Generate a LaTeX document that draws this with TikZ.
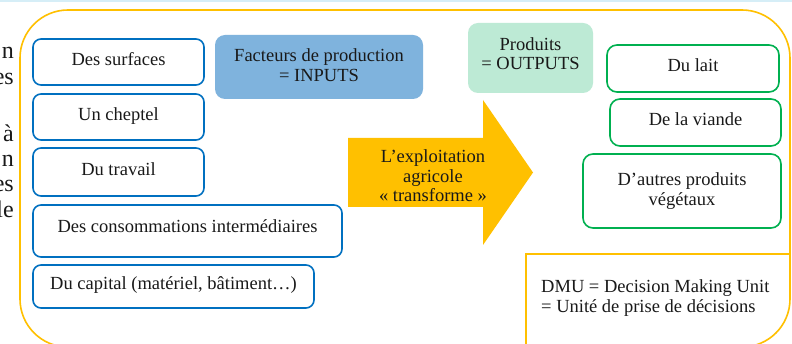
\documentclass[tikz,border=0pt]{standalone}
\usepackage{fontspec}
\setmainfont{Liberation Serif}
\definecolor{frameyellow}{HTML}{FFC000}
\definecolor{inblue}{HTML}{0070C0}
\definecolor{outgreen}{HTML}{00B050}
\definecolor{factfill}{HTML}{7FB3DD}
\definecolor{prodfill}{HTML}{BDEAD5}
\definecolor{topband}{HTML}{D6EEF7}
\tikzset{
  txt/.style={font=\fontsize{18.5}{19.5}\selectfont, text=black!90, align=center, inner sep=0pt},
  inbox/.style={txt, draw=inblue, line width=1.6pt, fill=white, rounded corners=8pt, text height=13pt, text depth=6pt},
  outbox/.style={txt, draw=outgreen, line width=1.6pt, fill=white, rounded corners=10pt},
  titlebox/.style={rounded corners=10pt, inner sep=0pt},
  frag/.style={font=\fontsize{24}{26}\selectfont, text=black!90, inner sep=0pt, anchor=base east},
}
\begin{document}
\begin{tikzpicture}[x=1pt,y=-1pt]
\useasboundingbox (0,0) rectangle (792,344);
\fill[white] (0,0) rectangle (792,344);
\fill[topband] (0,0) rectangle (792,2.5);
% left clipped paragraph fragments
\node[frag] (f1) at (14,59) {n};
\node[frag] (f2) at (14,85) {es};
\node[frag] (f3) at (14,142) {à};
\node[frag] (f4) at (14,166.5) {n};
\node[frag] (f5) at (14,192) {es};
\node[frag] (f6) at (14,218) {le};
% big frame
\draw[frameyellow, line width=1.6pt, rounded corners=48pt] (20,10) rectangle (790,347);
% DMU corner
\draw[frameyellow, line width=2pt] (526,347) -- (526,254) -- (790,254);
\node[txt, align=left, anchor=west] (dmu) at (541,298) {DMU = Decision Making Unit\\= Unité de prise de décisions};
% inputs
\node[inbox, minimum width=171pt, minimum height=46pt] (surf) at (118.5,62) {Des surfaces};
\node[inbox, minimum width=171pt, minimum height=46pt] (chep) at (118.5,117) {Un cheptel};
\node[inbox, minimum width=171pt, minimum height=48pt] (trav) at (118.5,172) {Du travail};
\node[inbox, minimum width=309pt, minimum height=52pt, text depth=9pt] (conso) at (187.5,231) {Des consommations intermédiaires};
\node[inbox, minimum width=281pt, minimum height=43pt] (capi) at (173.5,286.5) {Du capital (matériel, bâtiment…)};
\node[titlebox, fill=factfill, minimum width=208pt, minimum height=64pt] (fact) at (319,67) {};
\node[txt] (facttxt) at (319,65) {Facteurs de production\\= INPUTS};
% arrow
\fill[frameyellow] (348,138) -- (483,138) -- (483,100) -- (533,172.5) -- (483,245) -- (483,207) -- (348,207) -- cycle;
\node[txt] (expl) at (433,176) {L’exploitation\\agricole\\«~transforme~»};
% outputs
\node[titlebox, fill=prodfill, minimum width=125pt, minimum height=70pt] (prod) at (530.5,58) {};
\node[txt] (prodtxt) at (530.5,53.5) {Produits\\= OUTPUTS};
\node[outbox, minimum width=172pt, minimum height=47pt, text height=13pt, text depth=6pt] (lait) at (693,68.5) {Du lait};
\node[outbox, minimum width=171pt, minimum height=47pt, text height=13pt, text depth=6pt] (viande) at (695.5,122.5) {De la viande};
\node[outbox, minimum width=198pt, minimum height=74pt] (autres) at (682,191) {D’autres produits\\végétaux};
\end{tikzpicture}
\end{document}
